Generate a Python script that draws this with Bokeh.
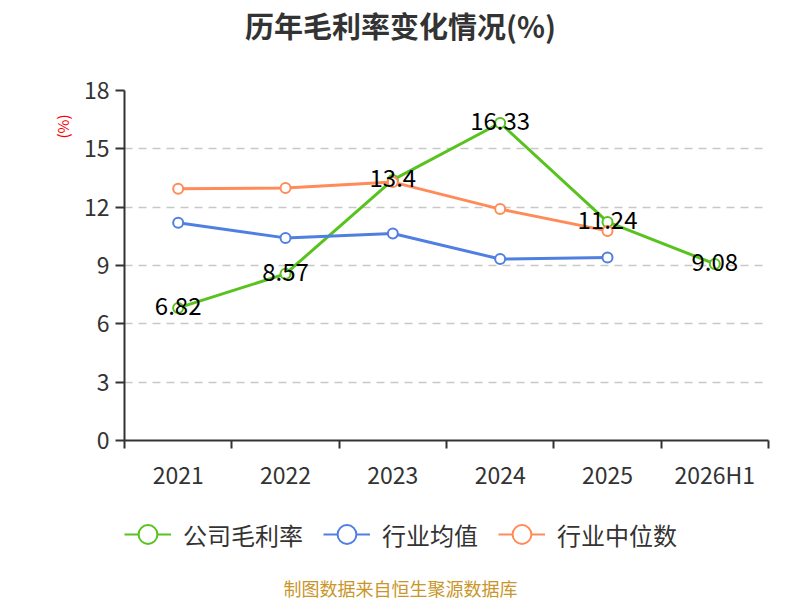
from bokeh.plotting import figure
from bokeh.layouts import column
from bokeh.models import (Range1d, FixedTicker, Legend, LegendItem, Title, Label,
                          ColumnDataSource)
from bokeh.embed import file_html
from bokeh.resources import INLINE
from bokeh.core.properties import value

categories = ["2021", "2022", "2023", "2024", "2025", "2026H1"]
company = [6.82, 8.57, 13.4, 16.33, 11.24, 9.08]
industry_avg = [11.2, 10.42, 10.65, 9.33, 9.41]
industry_median = [12.95, 12.98, 13.29, 11.9, 10.78]
series_names = ["公司毛利率", "行业均值", "行业中位数"]
y_ticks = [0, 3, 6, 9, 12, 15, 18]

GREEN = "#58c21e"
BLUE = "#4f80e1"
ORANGE = "#ff8b58"
COLORS = [GREEN, BLUE, ORANGE]
FONT = "Noto Sans CJK SC"

LEFT, FRAME_W, RIGHT = 124, 644, 32
W = LEFT + FRAME_W + RIGHT


def strip(height):
    # a strip aligned with the chart's frame; data x equals page x in pixels
    f = figure(frame_width=FRAME_W, frame_height=height, output_backend="svg",
               toolbar_location=None,
               x_range=Range1d(LEFT, LEFT + FRAME_W), y_range=Range1d(0, height),
               x_axis_location=None, y_axis_location=None,
               min_border_left=LEFT, min_border_right=RIGHT,
               min_border_top=0, min_border_bottom=0)
    f.outline_line_color = None
    f.grid.visible = False
    return f


# ---- title strip ----
top = strip(60)
top.add_layout(Label(x=W / 2, y=60 - 24, text="历年毛利率变化情况(%)",
                     text_align="center", text_baseline="middle",
                     text_font=FONT, text_font_size="29px", text_font_style="bold",
                     text_color="#333333"))

# ---- main chart ----
xs = [i + 0.5 for i in range(len(categories))]

p = figure(frame_width=FRAME_W, frame_height=350, output_backend="svg",
           toolbar_location=None,
           x_range=Range1d(0, len(categories)), y_range=Range1d(0, 18),
           min_border_left=LEFT, min_border_right=RIGHT, min_border_top=30,
           min_border_bottom=60)
p.outline_line_color = None

xt = FixedTicker(ticks=xs, minor_ticks=list(range(len(categories) + 1)))
p.xaxis.ticker = xt
p.xaxis.major_label_overrides = {x: c for x, c in zip(xs, categories)}
p.xaxis.major_tick_line_color = None
p.xaxis.minor_tick_line_color = "#333333"
p.xaxis.minor_tick_line_width = 2
p.xaxis.minor_tick_out = 8
p.xaxis.minor_tick_in = 0
p.xaxis.axis_line_color = "#333333"
p.xaxis.axis_line_width = 2
p.xaxis.major_label_text_font = FONT
p.xaxis.major_label_text_font_size = "23px"
p.xaxis.major_label_text_color = "#333333"
p.xaxis.major_label_standoff = 8

p.yaxis.ticker = FixedTicker(ticks=y_ticks)
p.yaxis.minor_tick_line_color = None
p.yaxis.major_tick_line_color = "#333333"
p.yaxis.major_tick_line_width = 2
p.yaxis.major_tick_out = 9
p.yaxis.major_tick_in = 0
p.yaxis.axis_line_color = "#333333"
p.yaxis.axis_line_width = 2
p.yaxis.major_label_text_font = FONT
p.yaxis.major_label_text_font_size = "23px"
p.yaxis.major_label_text_color = "#333333"
p.yaxis.major_label_standoff = 6

p.xgrid.grid_line_color = None
p.ygrid.ticker = FixedTicker(ticks=y_ticks[1:])
p.ygrid.grid_line_color = "#c8c8c8"
p.ygrid.grid_line_dash = "8 6"
p.ygrid.grid_line_width = 1.5

series = [company, industry_avg, industry_median]
for vals, color in zip(series, COLORS):
    src = ColumnDataSource(dict(x=xs[:len(vals)], y=vals))
    p.line("x", "y", source=src, line_color=color, line_width=3)
    p.scatter("x", "y", source=src, size=10, fill_color="white",
              line_color=color, line_width=2)

lab_src = ColumnDataSource(dict(x=xs, y=company, t=[f"{v:g}" for v in company]))
p.text("x", "y", text="t", source=lab_src, text_align="center",
       text_baseline="middle", text_font=value(FONT), text_font_size="24px",
       text_color="#000000", y_offset=-2)

p.add_layout(Title(text="(%)", align="right", offset=24, text_color="red",
                   text_font=FONT, text_font_size="15px", text_font_style="normal",
                   standoff=16), "left")

# ---- legend + source strip ----
bot = strip(100)
items = []
for name, vals, color in zip(series_names, series, COLORS):
    src = ColumnDataSource(dict(x=xs[:len(vals)], y=vals))
    l = bot.line("x", "y", source=src, line_color=color, line_width=2, visible=False)
    s = bot.scatter("x", "y", source=src, size=10, fill_color="white",
                    line_color=color, line_width=2, visible=False)
    items.append(LegendItem(label=name, renderers=[l, s]))

legend = Legend(items=items, orientation="horizontal", location=(0, 41),
                glyph_width=47, glyph_height=50, label_standoff=12, spacing=20,
                label_text_font=FONT, label_text_font_size="24px",
                label_text_color="#333333", border_line_color=None,
                background_fill_alpha=0, margin=0, padding=0,
                inactive_fill_alpha=0)
bot.add_layout(legend, "center")

bot.add_layout(Label(x=W / 2, y=100 - 87, text="制图数据来自恒生聚源数据库",
                     text_align="center", text_baseline="middle",
                     text_font=FONT, text_font_size="18px", text_color="#c9962a"))

layout = column(top, p, bot, spacing=0)
open("out.html", "w").write(file_html(layout, INLINE))
